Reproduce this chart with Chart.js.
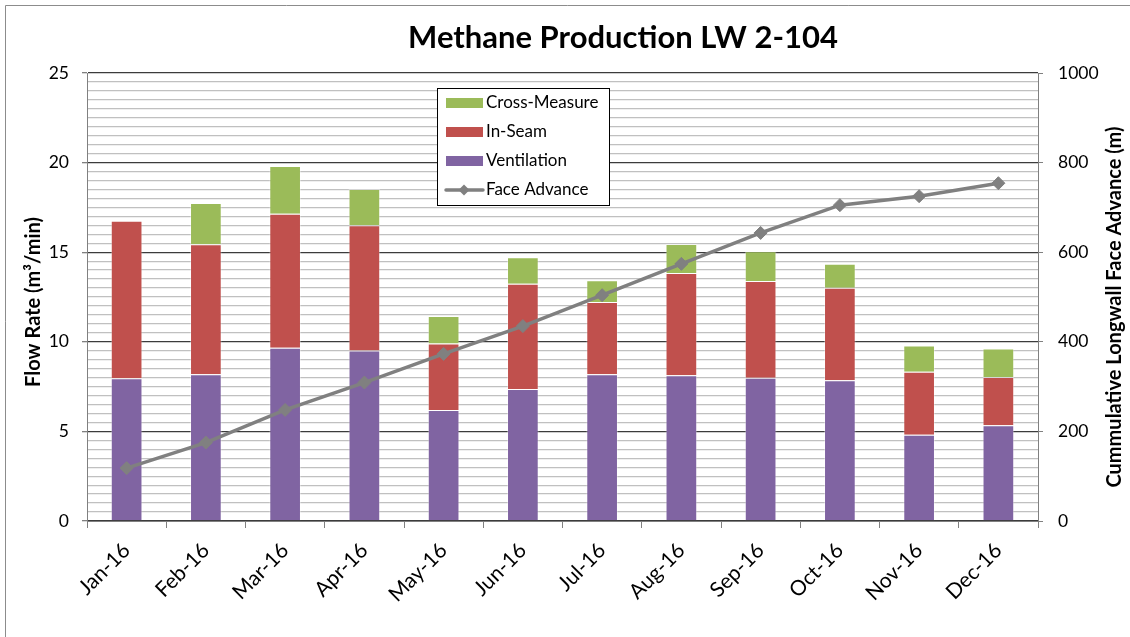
<!DOCTYPE html>
<html>
<head>
<meta charset="utf-8">
<script src="https://cdn.jsdelivr.net/npm/chart.js@4.4.1/dist/chart.umd.min.js"></script>
<style>
  html, body { margin: 0; padding: 0; background: #fff; }
  #wrap { width: 1130px; height: 637px; position: relative; }
</style>
</head>
<body>
<div id="wrap"><canvas id="c" width="1130" height="637"></canvas></div>
<script>
// ---- Data ----
const categories = ['Jan-16','Feb-16','Mar-16','Apr-16','May-16','Jun-16','Jul-16','Aug-16','Sep-16','Oct-16','Nov-16','Dec-16'];
const ventilation  = [7.96, 8.19, 9.67, 9.52, 6.19, 7.37, 8.19, 8.13, 8.00, 7.85, 4.82, 5.34];
const inSeam       = [8.80, 7.25, 7.48, 6.98, 3.71, 5.87, 4.03, 5.71, 5.39, 5.17, 3.51, 2.70];
const crossMeasure = [0.00, 2.31, 2.66, 2.03, 1.54, 1.48, 1.21, 1.62, 1.66, 1.34, 1.47, 1.58];
const faceAdvance  = [118, 175, 248, 309, 373, 435, 504, 574, 643, 705, 725, 754];
const leftTicks  = [0, 5, 10, 15, 20, 25];
const rightTicks = [0, 200, 400, 600, 800, 1000];

const chartTitle = 'Methane Production LW 2-104';
const leftTitle  = 'Flow Rate (m\u00B3/min)';
const rightTitle = 'Cummulative Longwall Face Advance (m)';

const FONT = 'Lato';
Chart.defaults.font.family = FONT;
Chart.defaults.color = '#000';

const COL = { green: '#9BBB59', red: '#C0504D', purple: '#8064A2', gray: '#808080' };

const textPlugin = {
  id: 'customTexts',
  afterDraw(chart) {
    const ctx = chart.ctx;
    const ca = chart.chartArea;
    ctx.save();
    ctx.fillStyle = '#000';
    ctx.textAlign = 'center';
    ctx.textBaseline = 'alphabetic';
    ctx.font = 'bold 31px ' + FONT;
    ctx.fillText(chartTitle, 623, 48);

    ctx.textBaseline = 'middle';
    ctx.font = 'bold 20px ' + FONT;
    ctx.save();
    ctx.translate(34, (ca.top + ca.bottom) / 2 + 5);
    ctx.rotate(-Math.PI / 2);
    ctx.fillText(leftTitle, 0, 0);
    ctx.restore();

    ctx.font = 'bold 20px ' + FONT;
    ctx.save();
    ctx.translate(1115, (ca.top + ca.bottom) / 2 + 10);
    ctx.rotate(-Math.PI / 2);
    ctx.fillText(rightTitle, 0, 0);
    ctx.restore();
    ctx.restore();
  }
};

const borderPlugin = {
  id: 'outerBorder',
  beforeDraw(chart) {
    const ctx = chart.ctx;
    ctx.save();
    ctx.fillStyle = '#fff';
    ctx.fillRect(0, 0, chart.width, chart.height);
    ctx.strokeStyle = '#8c8c8c';
    ctx.lineWidth = 1;
    ctx.beginPath();
    ctx.moveTo(5.5, chart.height);
    ctx.lineTo(5.5, 5.5);
    ctx.lineTo(chart.width, 5.5);
    ctx.stroke();
    ctx.restore();
  }
};

const legendPlugin = {
  id: 'boxLegend',
  afterDraw(chart) {
    const ctx = chart.ctx;
    const ca = chart.chartArea;
    const x0 = ca.left + 350, y0 = ca.top + 15, w = 172, h = 117;
    ctx.save();
    ctx.fillStyle = '#fff';
    ctx.fillRect(x0, y0, w, h);
    ctx.strokeStyle = '#000';
    ctx.lineWidth = 1;
    ctx.strokeRect(x0 + 0.5, y0 + 0.5, w, h);
    const order = [2, 1, 0, 3];
    ctx.font = '17px ' + FONT;
    ctx.textBaseline = 'middle';
    ctx.textAlign = 'left';
    order.forEach((di, i) => {
      const ds = chart.data.datasets[di];
      const cy = y0 + 15 + i * 29;
      if (ds.type === 'line') {
        ctx.strokeStyle = ds.borderColor;
        ctx.lineWidth = 3.5;
        ctx.lineCap = 'round';
        ctx.beginPath();
        ctx.moveTo(x0 + 9, cy);
        ctx.lineTo(x0 + 46, cy);
        ctx.stroke();
        ctx.fillStyle = ds.borderColor;
        ctx.beginPath();
        ctx.moveTo(x0 + 27, cy - 5.5); ctx.lineTo(x0 + 32.5, cy); ctx.lineTo(x0 + 27, cy + 5.5); ctx.lineTo(x0 + 21.5, cy); ctx.closePath();
        ctx.fill();
      } else {
        ctx.fillStyle = ds.backgroundColor;
        ctx.fillRect(x0 + 9, cy - 5, 37, 10);
      }
      ctx.fillStyle = '#000';
      ctx.fillText(ds.label, x0 + 49, cy);
    });
    ctx.restore();
  }
};

const isMajor = v => Math.abs(v / 5 - Math.round(v / 5)) < 1e-6;

new Chart(document.getElementById('c'), {
  type: 'bar',
  data: {
    labels: categories,
    datasets: [
      { type: 'bar', label: 'Ventilation', data: ventilation, backgroundColor: COL.purple,
        borderColor: 'rgba(255,255,255,0.35)', borderWidth: 1, yAxisID: 'y', stack: 's', order: 2 },
      { type: 'bar', label: 'In-Seam', data: inSeam, backgroundColor: COL.red,
        borderColor: 'rgba(255,255,255,0.35)', borderWidth: 1, yAxisID: 'y', stack: 's', order: 2 },
      { type: 'bar', label: 'Cross-Measure', data: crossMeasure, backgroundColor: COL.green,
        borderColor: 'rgba(255,255,255,0.35)', borderWidth: 1, yAxisID: 'y', stack: 's', order: 2 },
      { type: 'line', label: 'Face Advance', data: faceAdvance, yAxisID: 'y1', order: 0,
        borderColor: COL.gray, backgroundColor: COL.gray, borderWidth: 3.5,
        pointStyle: 'rectRot', pointRadius: 6.5, pointBackgroundColor: COL.gray,
        pointBorderColor: COL.gray, pointBorderWidth: 1, tension: 0, fill: false }
    ]
  },
  options: {
    responsive: false,
    animation: false,
    events: [],
    layout: { padding: { top: 73, left: 0, right: 0, bottom: 0 } },
    datasets: { bar: { barPercentage: 0.4, categoryPercentage: 1.0 } },
    plugins: { legend: { display: false }, title: { display: false }, tooltip: { enabled: false } },
    scales: {
      x: {
        stacked: true,
        afterFit(s) { s.height = 116; },
        grid: { offset: true, drawOnChartArea: false, color: '#808080', tickLength: 7 },
        border: { color: '#808080' },
        ticks: { font: { size: 21 }, maxRotation: 45, minRotation: 45, padding: 10, autoSkip: false }
      },
      y: {
        stacked: true,
        position: 'left',
        min: 0, max: 25,
        afterFit(s) { s.width = 87; },
        afterBuildTicks(s) {
          const t = [];
          for (let i = 0; i <= 50; i++) t.push({ value: i * 0.5 });
          s.ticks = t;
        },
        grid: {
          color: c => (c.tick && isMajor(c.tick.value)) ? '#3c3c3c' : '#c0c0c0',
          lineWidth: 1.3,
          tickColor: c => (c.tick && isMajor(c.tick.value)) ? '#808080' : 'rgba(0,0,0,0)',
          tickLength: 5
        },
        border: { color: '#808080' },
        ticks: {
          autoSkip: false,
          padding: 13,
          font: { size: 17.5 },
          callback: v => leftTicks.includes(v) ? String(v) : ''
        }
      },
      y1: {
        position: 'right',
        stacked: false,
        min: 0, max: 1000,
        afterFit(s) { s.width = 92; },
        afterBuildTicks(s) { s.ticks = rightTicks.map(v => ({ value: v })); },
        grid: { drawOnChartArea: false, color: '#808080', tickLength: 5 },
        border: { color: '#808080' },
        ticks: { padding: 15, font: { size: 17.5 }, callback: v => String(v) }
      }
    }
  },
  plugins: [borderPlugin, textPlugin, legendPlugin]
});
</script>
</body>
</html>
